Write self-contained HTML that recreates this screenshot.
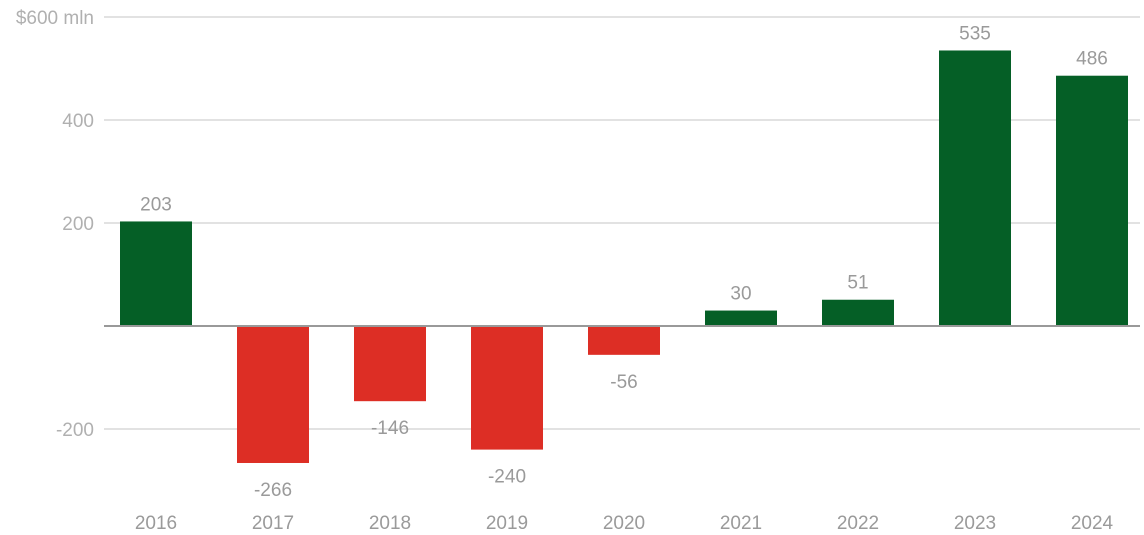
<!DOCTYPE html>
<html><head><meta charset="utf-8"><style>
body{margin:0;background:#fff;}
svg{display:block;font-family:"Liberation Sans",sans-serif;}
</style></head><body>
<svg id="chart" width="1144" height="535" viewBox="0 0 1144 535"></svg>
<script>
const categories=["2016","2017","2018","2019","2020","2021","2022","2023","2024"];
const values=[203,-266,-146,-240,-56,30,51,535,486];
const tickValues=[600,400,200,-200];
const tickLabels=["$600 mln","400","200","-200"];
const svg=document.getElementById('chart');
const NS='http://www.w3.org/2000/svg';
const y0=326, pxPer=0.515;
function y(v){return y0-v*pxPer;}
function xc(i){return 156+i*117;}
function mk(tag,attrs,parent){const e=document.createElementNS(NS,tag);for(const k in attrs)e.setAttribute(k,attrs[k]);(parent||svg).appendChild(e);return e;}
tickValues.forEach((t,i)=>{
  const g=mk('line',{x1:104,x2:1140,y1:y(t),y2:y(t),stroke:'#d9d9d9','stroke-width':1.5});
  
  
  const tx=mk('text',{x:94,y:y(t)+7,'text-anchor':'end','font-size':19,fill:'#b0b0b0'});
  tx.textContent=tickLabels[i];
  
  
});
values.forEach((v,i)=>{
  const top=v>=0?y(v):y0, h=Math.abs(v)*pxPer;
  const r=mk('rect',{x:xc(i)-36,y:top,width:72,height:h,fill:v>=0?'#055f26':'#dd2e25'});
  
  
  const l=mk('text',{x:xc(i),y:v>=0?y(v)-11:y(v)+33,'text-anchor':'middle','font-size':19,fill:'#9a9a9a'});
  l.textContent=v;
  
  
  const c=mk('text',{x:xc(i),y:529,'text-anchor':'middle','font-size':19,fill:'#9a9a9a'});
  c.textContent=categories[i];
  
  
});
const z=mk('line',{x1:104,x2:1140,y1:y0,y2:y0,stroke:'#999','stroke-width':2});


</script>
</body></html>
